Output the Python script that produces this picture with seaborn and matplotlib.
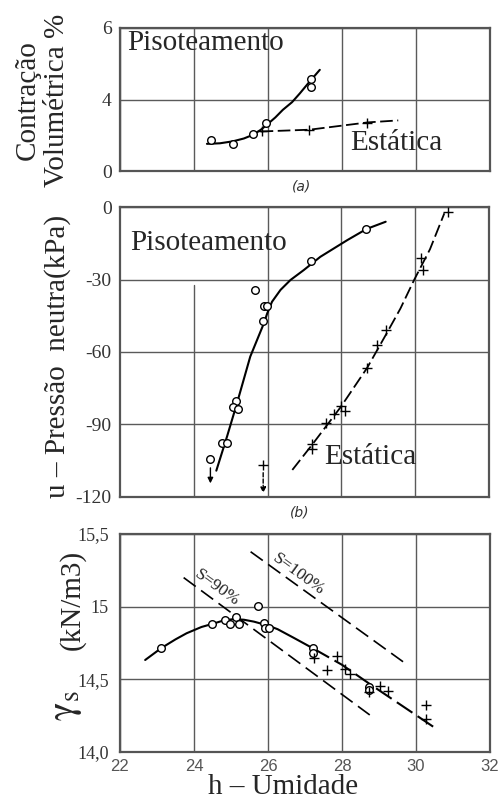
import numpy as np
import pandas as pd
import matplotlib
matplotlib.use("Agg")
import matplotlib.pyplot as plt
import seaborn as sns

# ---------------- data ----------------
x_ticks = [22, 24, 26, 28, 30, 32]

# (a) volumetric contraction
a_pis_x = [24.46, 25.05, 25.60, 25.95, 27.16, 27.16]
a_pis_y = [1.75, 1.52, 2.08, 2.70, 4.58, 4.36]
a_pis_curve_x = [24.35, 24.70, 25.05, 25.35, 25.60, 25.80, 25.95, 26.20, 26.40, 26.65, 26.86, 27.10, 27.40]
a_pis_curve_y = [1.52, 1.55, 1.66, 1.82, 2.03, 2.30, 2.55, 3.00, 3.42, 3.85, 4.17, 4.47, 4.83]
a_est_x = [25.84, 27.10, 28.68]
a_est_y = [2.25, 2.28, 2.70]
a_est_line_x = [25.80, 27.12, 28.70, 29.52]
a_est_line_y = [2.21, 2.31, 2.72, 2.83]
a_yticks = [0, 4, 6]

# (b) pore pressure
b_pis_x = [28.68, 27.18, 25.67, 25.90, 25.99, 25.88, 25.15, 25.05, 25.19, 24.76, 24.90, 24.45]
b_pis_y = [-9.1, -22.2, -34.3, -41.0, -41.0, -47.0, -80.1, -82.6, -83.5, -97.8, -97.8, -104.4]
b_pis_curve_x = [24.61, 24.90, 25.17, 25.53, 25.90, 25.99, 26.12, 26.35, 26.62, 26.98,
                 27.43, 28.16, 28.68, 29.20]
b_pis_curve_y = [-109.1, -95.0, -81.2, -61.9, -48.1, -44.0, -39.2, -34.3, -30.2, -26.1,
                 -20.6, -13.7, -9.1, -6.1]
b_est_x = [30.88, 30.17, 30.20, 29.20, 28.97, 28.70, 27.98, 28.11, 27.80, 27.57, 27.20, 27.20, 25.88]
b_est_y = [-1.9, -21.2, -26.1, -50.9, -57.1, -66.8, -82.3, -84.3, -85.7, -89.5, -98.1, -100.3, -106.8]
b_est_line_x = [26.67, 27.20, 27.98, 28.70, 29.20, 29.60, 29.97, 30.40, 30.79]
b_est_line_y = [-108.8, -98.5, -82.8, -66.5, -53.0, -42.0, -30.2, -17.5, -2.6]
b_yticks = [0, -30, -60, -90, -120]

# (c) dry unit weight
c_pis_x = [23.11, 24.49, 24.85, 24.97, 25.13, 25.22, 25.72, 25.90, 25.92, 26.03, 27.21, 27.21, 28.73, 28.73]
c_pis_y = [14.714, 14.881, 14.908, 14.881, 14.931, 14.881, 15.004, 14.886, 14.851, 14.851, 14.714, 14.683, 14.445, 14.430]
c_est_x = [27.23, 27.86, 27.60, 28.07, 28.21, 28.73, 29.02, 29.25, 30.26, 30.26]
c_est_y = [14.645, 14.661, 14.564, 14.573, 14.537, 14.410, 14.454, 14.420, 14.323, 14.225]
c_curve_solid_x = [22.68, 23.11, 23.50, 23.80, 24.20, 24.49, 24.80, 25.08, 25.35, 25.62,
                   26.00, 26.26, 26.70, 27.21]
c_curve_solid_y = [14.633, 14.714, 14.775, 14.817, 14.860, 14.881, 14.905, 14.915, 14.910, 14.897,
                   14.870, 14.845, 14.785, 14.714]
c_curve_dash_x = [27.21, 28.00, 28.79, 30.60]
c_curve_dash_y = [14.714, 14.600, 14.461, 14.151]
s90_x = [23.72, 28.75]
s90_y = [15.200, 14.255]
s100_x = [25.53, 29.65]
s100_y = [15.378, 14.621]
c_yticks = [14.0, 14.5, 15.0, 15.5]
c_yticklabels = ["14,0", "14,5", "15", "15,5"]

# ---------------- style ----------------
sns.set_theme(style="white")
plt.rcParams["font.family"] = ["Liberation Serif", "DejaVu Serif"]
plt.rcParams["mathtext.fontset"] = "stix"

fig = plt.figure(figsize=(5.01, 8.01), dpi=100)
W, H = 501.0, 801.0

def box(l, r, t, b):
    return [l / W, 1 - b / H, (r - l) / W, (b - t) / H]

ax_a = fig.add_axes(box(120, 490, 28, 171))
ax_b = fig.add_axes(box(120, 489, 207, 497))
ax_c = fig.add_axes(box(120, 490, 534, 752))

GRID = "#5a5a5a"
SPINE = "#555555"
TICKC = "#333333"

for ax in (ax_a, ax_b, ax_c):
    ax.set_xlim(22, 32)
    ax.set_xticks(x_ticks)
    for s in ax.spines.values():
        s.set_color(SPINE)
        s.set_linewidth(1.6)
    ax.tick_params(length=0)
    ax.set_facecolor("white")

# ---------- panel (a) ----------
def fwd(y):
    y = np.asarray(y, dtype=float)
    return np.where(y <= 4, y * 0.75, 3 + (y - 4) * 1.5)

def inv(v):
    v = np.asarray(v, dtype=float)
    return np.where(v <= 3, v / 0.75, 4 + (v - 3) / 1.5)

ax_a.set_yscale("function", functions=(fwd, inv))
ax_a.set_ylim(0, 6)
ax_a.set_yticks(a_yticks)
ax_a.set_yticklabels([str(v) for v in a_yticks])
ax_a.grid(True, color=GRID, lw=1.0)
ax_a.set_xticklabels([])
ax_a.tick_params(axis="y", labelsize=14, labelcolor=TICKC, pad=6)

sns.lineplot(x=a_pis_curve_x, y=a_pis_curve_y, ax=ax_a, color="black", lw=1.5,
             sort=False, estimator=None)
sns.lineplot(x=a_est_line_x, y=a_est_line_y, ax=ax_a, color="black", lw=1.3,
             sort=False, estimator=None, linestyle=(0, (7, 2.5)))
sns.scatterplot(x=a_pis_x, y=a_pis_y, ax=ax_a, marker="o", s=30,
                facecolor="white", edgecolor="black", linewidth=1.0, zorder=5)
sns.scatterplot(x=a_est_x, y=a_est_y, ax=ax_a, marker="+", s=45,
                color="black", linewidth=1.0, zorder=5)
ax_a.text(22.19, 5.58, "Pisoteamento", fontsize=21, ha="left", va="center")
ax_a.text(28.22, 1.58, "Estática", fontsize=21, ha="left", va="center")
ax_a.set_ylabel("")
fig.text(42 / W, 1 - 100 / H, "Contração\nVolumétrica %", rotation=90,
         fontsize=21, ha="center", va="center", linespacing=1.15)
fig.text(302 / W, 1 - 187 / H, "(a)", fontsize=10, style="italic",
         family="DejaVu Sans", color="#333333", ha="center", va="center")

# ---------- panel (b) ----------
ax_b.set_ylim(-120, 0)
ax_b.set_yticks(b_yticks)
ax_b.set_yticklabels([str(v) for v in b_yticks])
ax_b.set_xticklabels([])
ax_b.grid(True, axis="y", color=GRID, lw=1.0)
for xv in [26, 28, 30]:
    ax_b.axvline(xv, color=GRID, lw=1.0, zorder=0.5)
ax_b.axvline(24, ymax=0.73, color=GRID, lw=1.0, zorder=0.5)
ax_b.tick_params(axis="y", labelsize=14, labelcolor=TICKC, pad=6)

sns.lineplot(x=b_pis_curve_x, y=b_pis_curve_y, ax=ax_b, color="black", lw=1.5,
             sort=False, estimator=None)
sns.lineplot(x=b_est_line_x, y=b_est_line_y, ax=ax_b, color="black", lw=1.3,
             sort=False, estimator=None, linestyle=(0, (7, 2.5)))
sns.scatterplot(x=b_pis_x, y=b_pis_y, ax=ax_b, marker="o", s=30,
                facecolor="white", edgecolor="black", linewidth=1.0, zorder=5)
sns.scatterplot(x=b_est_x, y=b_est_y, ax=ax_b, marker="+", s=45,
                color="black", linewidth=1.0, zorder=5)
ax_b.annotate("", xy=(24.45, -115.5), xytext=(24.45, -106.8),
              arrowprops=dict(arrowstyle="-|>", color="black", lw=1.0,
                              mutation_scale=8))
ax_b.annotate("", xy=(25.88, -119.5), xytext=(25.88, -108.8),
              arrowprops=dict(arrowstyle="-|>", color="black", lw=1.0,
                              linestyle=(0, (3, 1.5)), mutation_scale=8))
ax_b.text(22.27, -14.9, "Pisoteamento", fontsize=21, ha="left", va="center")
ax_b.text(27.54, -103.4, "Estática", fontsize=21, ha="left", va="center")
ax_b.set_ylabel("")
fig.text(58 / W, 1 - 356 / H, "u – Pressão  neutra(kPa)", rotation=90,
         fontsize=21, ha="center", va="center")
fig.text(300 / W, 1 - 513 / H, "(b)", fontsize=10, style="italic",
         family="DejaVu Sans", color="#333333", ha="center", va="center")

# ---------- panel (c) ----------
ax_c.set_ylim(14.0, 15.5)
ax_c.set_yticks(c_yticks)
ax_c.set_yticklabels(c_yticklabels)
ax_c.grid(True, color=GRID, lw=1.0)
ax_c.tick_params(axis="y", labelsize=13, labelcolor=TICKC, pad=8)
ax_c.tick_params(axis="x", labelsize=12, labelcolor="#555555", pad=5)
for lab in ax_c.get_xticklabels():
    lab.set_family("Liberation Sans")

sns.lineplot(x=c_curve_solid_x, y=c_curve_solid_y, ax=ax_c, color="black", lw=1.5,
             sort=False, estimator=None)
sns.lineplot(x=c_curve_dash_x, y=c_curve_dash_y, ax=ax_c, color="black", lw=1.5,
             sort=False, estimator=None, linestyle=(0, (9, 3)))
sns.lineplot(x=s90_x, y=s90_y, ax=ax_c, color="black", lw=1.2,
             sort=False, estimator=None, linestyle=(0, (9, 4)))
sns.lineplot(x=s100_x, y=s100_y, ax=ax_c, color="black", lw=1.2,
             sort=False, estimator=None, linestyle=(0, (9, 4)))
sns.scatterplot(x=c_pis_x, y=c_pis_y, ax=ax_c, marker="o", s=30,
                facecolor="white", edgecolor="black", linewidth=1.0, zorder=5)
sns.scatterplot(x=c_est_x, y=c_est_y, ax=ax_c, marker="+", s=45,
                color="black", linewidth=1.0, zorder=5)
ax_c.text(24.62, 15.13, "S=90%", fontsize=12.5, rotation=-36, ha="center",
          va="center", rotation_mode="anchor", color="#222222")
ax_c.text(26.82, 15.22, "S=100%", fontsize=12.5, rotation=-36, ha="center",
          va="center", rotation_mode="anchor", color="#222222")
ax_c.set_ylabel("")
ax_c.set_xlabel("")
fig.text(283 / W, 1 - 787 / H, "h – Umidade", fontsize=21, ha="center", va="center")
fig.text(66 / W, 1 - 706 / H, r"$\mathrm{\gamma}_\mathrm{s}$", rotation=90, fontsize=28,
         ha="center", va="center")
fig.text(72 / W, 1 - 600 / H, "(kN/m3)", rotation=90, fontsize=21,
         ha="center", va="center")

fig.savefig("out.png", dpi=100, facecolor="white")
